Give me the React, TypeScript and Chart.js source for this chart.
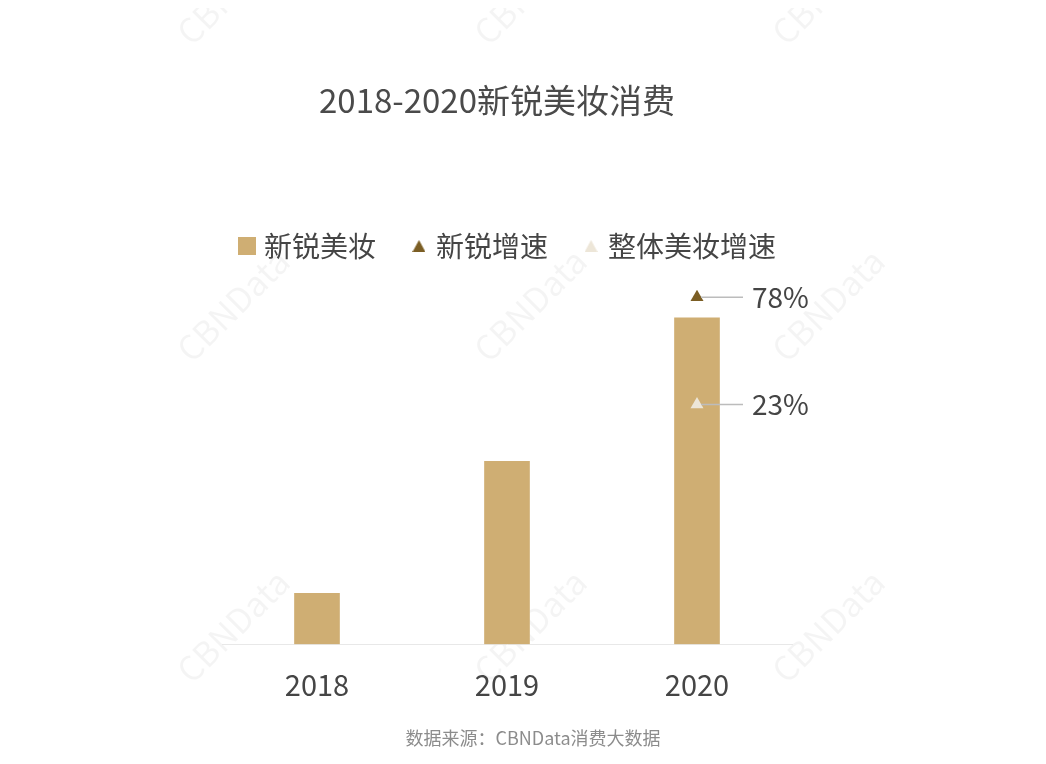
import { useEffect, useRef } from "react";
import { Chart, registerables } from "chart.js";

Chart.register(...registerables);

const chartTitle = "2018-2020新锐美妆消费";
const sourceNote = "数据来源：CBNData消费大数据";
const watermarkText = "CBNData";
const years = ["2018", "2019", "2020"];
const seriesNames = ["新锐美妆", "新锐增速", "整体美妆增速"];
const beautySales = [13.6, 48.9, 87.2];
const newBrandGrowth = [null, null, 78];
const overallGrowth = [null, null, 23];

const FONT = '"Noto Sans CJK SC", "Noto Sans", sans-serif';
const BAR_COLOR = "#CFAE73";
const DARK_TRI = "#7B5E24";
const LIGHT_TRI = "#EDE6D8";

function makeSquare(color: string, size: number) {
  const c = document.createElement("canvas");
  c.width = size;
  c.height = size;
  const g = c.getContext("2d")!;
  g.fillStyle = color;
  g.fillRect(0, 0, size, size);
  return c;
}

function makeTriangle(color: string, w: number, h: number) {
  const c = document.createElement("canvas");
  c.width = w;
  c.height = h;
  const g = c.getContext("2d")!;
  g.fillStyle = color;
  g.beginPath();
  g.moveTo(w / 2, 0);
  g.lineTo(w, h);
  g.lineTo(0, h);
  g.closePath();
  g.fill();
  return c;
}

export default function App() {
  const ref = useRef<HTMLCanvasElement>(null);

  useEffect(() => {
    if (!ref.current) return;
    const legendMarks = [
      makeSquare(BAR_COLOR, 18),
      makeTriangle(DARK_TRI, 13, 12),
      makeTriangle(LIGHT_TRI, 13, 12),
    ];
    const colors = [BAR_COLOR, DARK_TRI, LIGHT_TRI];

    const decorPlugin = {
      id: "decor",
      beforeDraw(chart: any) {
        const ctx = chart.ctx;
        ctx.save();
        ctx.fillStyle = "rgba(0,0,0,0.045)";
        ctx.font = `34px ${FONT}`;
        ctx.textAlign = "center";
        ctx.textBaseline = "middle";
        const xs = [225, 522, 820];
        const ys = [-20, 297, 618];
        xs.forEach((x) =>
          ys.forEach((y) => {
            ctx.save();
            ctx.translate(x, y);
            ctx.rotate(-Math.PI / 4);
            ctx.fillText(watermarkText, 0, 0);
            ctx.restore();
          })
        );
        ctx.restore();
      },
      afterDraw(chart: any) {
        const ctx = chart.ctx;
        ctx.save();
        ctx.fillStyle = "#4a4a4a";
        ctx.font = `33px ${FONT}`;
        ctx.textAlign = "center";
        ctx.textBaseline = "middle";
        ctx.fillText(chartTitle, 489, 92);
        ctx.fillStyle = "#8c8c8c";
        ctx.font = `18px ${FONT}`;
        ctx.fillText(sourceNote, 525, 730);
        ctx.restore();
      },
      afterDatasetsDraw(chart: any) {
        const ctx = chart.ctx;
        ctx.save();
        [1, 2].forEach((di) => {
          const meta = chart.getDatasetMeta(di);
          const data = chart.data.datasets[di].data;
          meta.data.forEach((pt: any, i: number) => {
            const v = data[i];
            if (v == null) return;
            ctx.strokeStyle = "#bcbcbc";
            ctx.lineWidth = 1.5;
            ctx.beginPath();
            ctx.moveTo(pt.x + 4, pt.y);
            ctx.lineTo(pt.x + 46, pt.y);
            ctx.stroke();
            ctx.fillStyle = "#454545";
            ctx.font = `28px ${FONT}`;
            ctx.textAlign = "left";
            ctx.textBaseline = "middle";
            ctx.fillText(`${v}%`, pt.x + 55, pt.y);
          });
        });
        ctx.restore();
      },
    };

    const chart = new Chart(ref.current, {
      type: "bar",
      data: {
        labels: years,
        datasets: [
          {
            type: "bar",
            label: seriesNames[0],
            data: beautySales,
            backgroundColor: BAR_COLOR,
            barThickness: 45,
            yAxisID: "y",
            order: 2,
          },
          {
            type: "line",
            label: seriesNames[1],
            data: newBrandGrowth as any,
            showLine: false,
            pointStyle: "triangle",
            pointRadius: 7.5,
            backgroundColor: DARK_TRI,
            borderColor: DARK_TRI,
            borderWidth: 0,
            yAxisID: "y2",
            order: 1,
          },
          {
            type: "line",
            label: seriesNames[2],
            data: overallGrowth as any,
            showLine: false,
            pointStyle: "triangle",
            pointRadius: 7.5,
            backgroundColor: LIGHT_TRI,
            borderColor: LIGHT_TRI,
            borderWidth: 0,
            yAxisID: "y2",
            order: 0,
          },
        ],
      },
      options: {
        animation: false,
        responsive: true,
        maintainAspectRatio: false,
        layout: { padding: { left: 117, right: 143, top: 184, bottom: 31 } },
        plugins: {
          title: { display: false },
          tooltip: { enabled: false },
          legend: {
            display: true,
            position: "top",
            labels: {
              usePointStyle: true,
              boxWidth: 6,
              padding: 40,
              color: "#454545",
              font: { family: FONT, size: 28 },
              generateLabels: () =>
                seriesNames.map((name, i) => ({
                  text: name,
                  pointStyle: legendMarks[i] as any,
                  fillStyle: colors[i],
                  strokeStyle: colors[i],
                  fontColor: "#454545",
                  lineWidth: 0,
                  hidden: false,
                  datasetIndex: i,
                })),
            },
          },
        },
        scales: {
          x: {
            grid: { display: false, drawTicks: false },
            border: { display: true, color: "#e8e8e8", width: 1 },
            ticks: {
              color: "#454545",
              padding: 23,
              font: { family: FONT, size: 29 },
            },
          },
          y: {
            display: true,
            position: "left",
            min: 0,
            max: 100,
            grid: { display: false, drawTicks: false },
            border: { display: false },
            ticks: { display: false },
            afterFit: (s: any) => {
              s.width = 97;
            },
          },
          y2: {
            display: true,
            position: "right",
            min: -100,
            max: 92,
            grid: { display: false, drawTicks: false },
            border: { display: false },
            ticks: { display: false },
            afterFit: (s: any) => {
              s.width = 103;
            },
          },
        },
      },
      plugins: [decorPlugin],
    });
    return () => chart.destroy();
  }, []);

  return (
    <div style={{ width: 1030, height: 748, position: "relative" }}>
      <canvas ref={ref} />
    </div>
  );
}
